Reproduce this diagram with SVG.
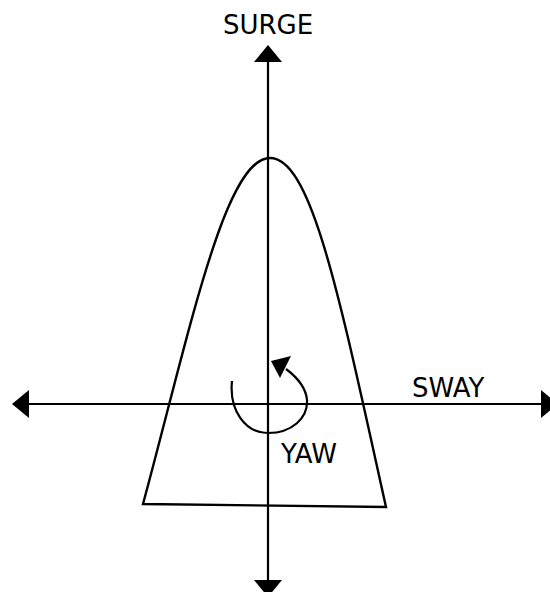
<svg xmlns="http://www.w3.org/2000/svg" width="550" height="592" viewBox="0 0 550 592">
<style>
.ax{stroke:#000;stroke-width:2.2;fill:none}
.hd{fill:#000;stroke:none}
.lb{font-family:"DejaVu Sans",sans-serif;font-size:26px;fill:#000}
</style>
<rect width="550" height="592" fill="#fff"/>
<g id="hull">
<path d="M143,504 C190,330 225,158 270,158 C312,158 340,300 386,507 Z" fill="none" stroke="#000" stroke-width="2.4" stroke-linejoin="miter"/>
</g>
<g id="connectors">
<line class="ax" x1="268" y1="58" x2="268" y2="584"/>
<line class="ax" x1="25" y1="404" x2="545" y2="404"/>
<polygon class="hd" points="268,45 254,62 282,62"/>
<polygon class="hd" points="12,404 29,390 29,418"/>
<polygon class="hd" points="558,404 541,390 541,418"/>
<polygon class="hd" points="268,597 254,580 282,580"/>
<path class="ax" d="M232,381 C229,410 245,433 268,433 C292,433 308,418 307,400 C306,388 298,378 286,369"/>
<polygon class="hd" points="271,361 291,356 280,378"/>
</g>
<g id="labels">
<text class="lb" x="268" y="34" text-anchor="middle">SURGE</text>
<text class="lb" x="412" y="397">SWAY</text>
<text class="lb" x="281" y="463">YAW</text>
</g>
</svg>
